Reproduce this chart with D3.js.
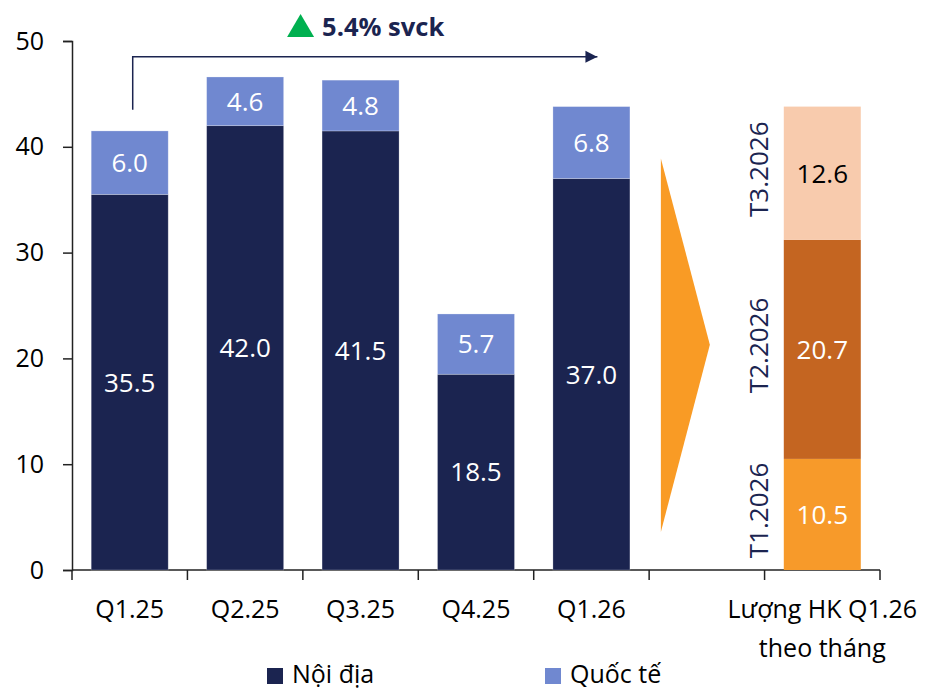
<!DOCTYPE html>
<html>
<head>
<meta charset="utf-8">
<script src="https://cdn.jsdelivr.net/npm/d3@7"></script>
<style>
  body { margin: 0; background: #fff; }
  text { font-family: "Open Sans", sans-serif; }
</style>
</head>
<body>
<div class="container"></div>
<script>
// data
var categories = ["Q1.25", "Q2.25", "Q3.25", "Q4.25", "Q1.26", "", "Lượng HK Q1.26|theo tháng"];
var quarters = ["Q1.25", "Q2.25", "Q3.25", "Q4.25", "Q1.26"];
var noiDia = [35.5, 42.0, 41.5, 18.5, 37.0];
var quocTe = [6.0, 4.6, 4.8, 5.7, 6.8];
var months = ["T1.2026", "T2.2026", "T3.2026"];
var monthValues = [10.5, 20.7, 12.6];
var yTicks = [0, 10, 20, 30, 40, 50];
var growthLabel = "5.4% svck";

var navy = "#1b2450",
    lightBlue = "#7088d0",
    monthColors = ["#f79a2a", "#c46521", "#f8cbad"],
    monthText = ["#ffffff", "#ffffff", "#000000"];

var width = 930, height = 690;

var svg = d3.select(".container")
    .append("svg")
    .attr("width", width)
    .attr("height", height);

var x = d3.scaleBand()
    .domain(categories)
    .range([72, 880])
    .paddingInner(0.333)
    .paddingOuter(0.1665);

var y = d3.scaleLinear()
    .domain([0, 50])
    .range([570, 41]);

// y axis
var yAxis = svg.append("g")
    .attr("transform", "translate(72,0)")
    .call(d3.axisLeft(y).tickValues(yTicks).tickSize(9).tickPadding(19));
yAxis.select(".domain").attr("stroke", "#222").attr("stroke-width", 1.5);
yAxis.selectAll(".tick line").attr("stroke", "#222").attr("stroke-width", 1.5);
yAxis.selectAll(".tick text")
    .attr("fill", "#000")
    .style("font-size", "25px")
    .style("font-family", "Open Sans");

// x axis line + boundary ticks
svg.append("line")
    .attr("x1", x.range()[0]).attr("x2", x.range()[1])
    .attr("y1", y(0)).attr("y2", y(0))
    .attr("stroke", "#222").attr("stroke-width", 1.5);

svg.append("g")
    .selectAll("line")
    .data(d3.range(categories.length + 1))
    .enter()
    .append("line")
    .attr("x1", function (i) { return x.range()[0] + i * x.step(); })
    .attr("x2", function (i) { return x.range()[0] + i * x.step(); })
    .attr("y1", y(0))
    .attr("y2", y(0) + 10)
    .attr("stroke", "#222").attr("stroke-width", 1.5);

// x labels
var xl = svg.append("g")
    .selectAll("text")
    .data(categories)
    .enter()
    .append("text")
    .attr("text-anchor", "middle")
    .attr("fill", "#000")
    .style("font-size", "25px");
xl.each(function (d) {
    var lines = d.split("|");
    var t = d3.select(this);
    lines.forEach(function (line, i) {
        t.append("tspan")
            .attr("x", x(d) + x.bandwidth() / 2)
            .attr("y", 618 + i * 39)
            .text(line);
    });
});

// stacked quarterly bars
var qData = quarters.map(function (q, i) {
    return { cat: q, a: noiDia[i], b: quocTe[i] };
});

var bars = svg.append("g")
    .selectAll("g")
    .data(qData)
    .enter()
    .append("g");

bars.append("rect")
    .attr("x", function (d) { return x(d.cat); })
    .attr("width", x.bandwidth())
    .attr("y", function (d) { return y(d.a); })
    .attr("height", function (d) { return y(0) - y(d.a); })
    .attr("fill", navy)
    .attr("stroke", "#ffffff").attr("stroke-opacity", 0.3).attr("stroke-width", 0.8);

bars.append("rect")
    .attr("x", function (d) { return x(d.cat); })
    .attr("width", x.bandwidth())
    .attr("y", function (d) { return y(d.a + d.b); })
    .attr("height", function (d) { return y(d.a) - y(d.a + d.b); })
    .attr("fill", lightBlue)
    .attr("stroke", "#ffffff").attr("stroke-opacity", 0.3).attr("stroke-width", 0.8);

bars.append("text")
    .attr("x", function (d) { return x(d.cat) + x.bandwidth() / 2; })
    .attr("y", function (d) { return y(d.a / 2); })
    .attr("dy", "0.36em")
    .attr("text-anchor", "middle")
    .attr("fill", "#fff")
    .style("font-size", "26px")
    .text(function (d) { return d.a.toFixed(1); });

bars.append("text")
    .attr("x", function (d) { return x(d.cat) + x.bandwidth() / 2; })
    .attr("y", function (d) { return y(d.a + d.b / 2); })
    .attr("dy", "0.36em")
    .attr("text-anchor", "middle")
    .attr("fill", "#fff")
    .style("font-size", "26px")
    .text(function (d) { return d.b.toFixed(1); });

// monthly stacked bar
var mCat = categories[6];
var mData = [];
var acc = 0;
monthValues.forEach(function (v, i) {
    mData.push({ name: months[i], y0: acc, y1: acc + v, v: v, i: i });
    acc += v;
});

var mg = svg.append("g")
    .selectAll("g")
    .data(mData)
    .enter()
    .append("g");

mg.append("rect")
    .attr("x", x(mCat))
    .attr("width", x.bandwidth())
    .attr("y", function (d) { return y(d.y1); })
    .attr("height", function (d) { return y(d.y0) - y(d.y1); })
    .attr("fill", function (d) { return monthColors[d.i]; });

mg.append("text")
    .attr("x", x(mCat) + x.bandwidth() / 2)
    .attr("y", function (d) { return y((d.y0 + d.y1) / 2); })
    .attr("dy", "0.36em")
    .attr("text-anchor", "middle")
    .attr("fill", function (d) { return monthText[d.i]; })
    .style("font-size", "26px")
    .text(function (d) { return d.v.toFixed(1); });

mg.append("text")
    .attr("transform", function (d) {
        return "translate(" + (x(mCat) - 16) + "," + (y((d.y0 + d.y1) / 2) - 4) + ") rotate(-90)";
    })
    .attr("text-anchor", "middle")
    .attr("fill", navy)
    .style("font-size", "26px")
    .text(function (d) { return d.name; });

// orange chevron in empty slot
var ac = x(categories[5]) + x.bandwidth() / 2;
svg.append("path")
    .attr("d", "M" + (ac - 46) + "," + y(38.9) +
        "L" + (ac + 3) + "," + y(21.3) +
        "L" + (ac - 46) + "," + y(3.6) + "Z")
    .attr("fill", "#f99b25");

// growth bracket arrow
var bx0 = x("Q1.25") + x.bandwidth() / 2 + 3,
    bx1 = x("Q1.26") + x.bandwidth() / 2 + 6;

svg.append("defs").append("marker")
    .attr("id", "arr")
    .attr("viewBox", "0 0 10 10")
    .attr("refX", 10).attr("refY", 5)
    .attr("markerWidth", 12).attr("markerHeight", 13)
    .attr("markerUnits", "userSpaceOnUse")
    .attr("orient", "auto")
    .append("path")
    .attr("d", "M0,0L10,5L0,10Z")
    .attr("fill", navy);

svg.append("path")
    .attr("d", "M" + bx0 + "," + y(43.5) + "V" + y(48.5) + "H" + bx1)
    .attr("fill", "none")
    .attr("stroke", navy)
    .attr("stroke-width", 1.5)
    .attr("marker-end", "url(#arr)");

var mid = (bx0 + bx1) / 2;
svg.append("path")
    .attr("d", "M" + (mid - 78) + ",37L" + (mid - 64.5) + ",14L" + (mid - 51) + ",37Z")
    .attr("fill", "#00b050");

svg.append("text")
    .attr("x", mid - 43)
    .attr("y", 36)
    .attr("fill", navy)
    .style("font-size", "25.5px")
    .style("font-weight", "bold")
    .text(growthLabel);

// legend
var legend = [
    { label: "Nội địa", color: navy, x: 267 },
    { label: "Quốc tế", color: lightBlue, x: 545 }
];
var lg = svg.append("g")
    .selectAll("g")
    .data(legend)
    .enter()
    .append("g");
lg.append("rect")
    .attr("x", function (d) { return d.x; })
    .attr("y", 668)
    .attr("width", 16).attr("height", 16)
    .attr("fill", function (d) { return d.color; });
lg.append("text")
    .attr("x", function (d) { return d.x + 25; })
    .attr("y", 683)
    .attr("fill", "#000")
    .style("font-size", "25px")
    .text(function (d) { return d.label; });
</script>
</body>
</html>
